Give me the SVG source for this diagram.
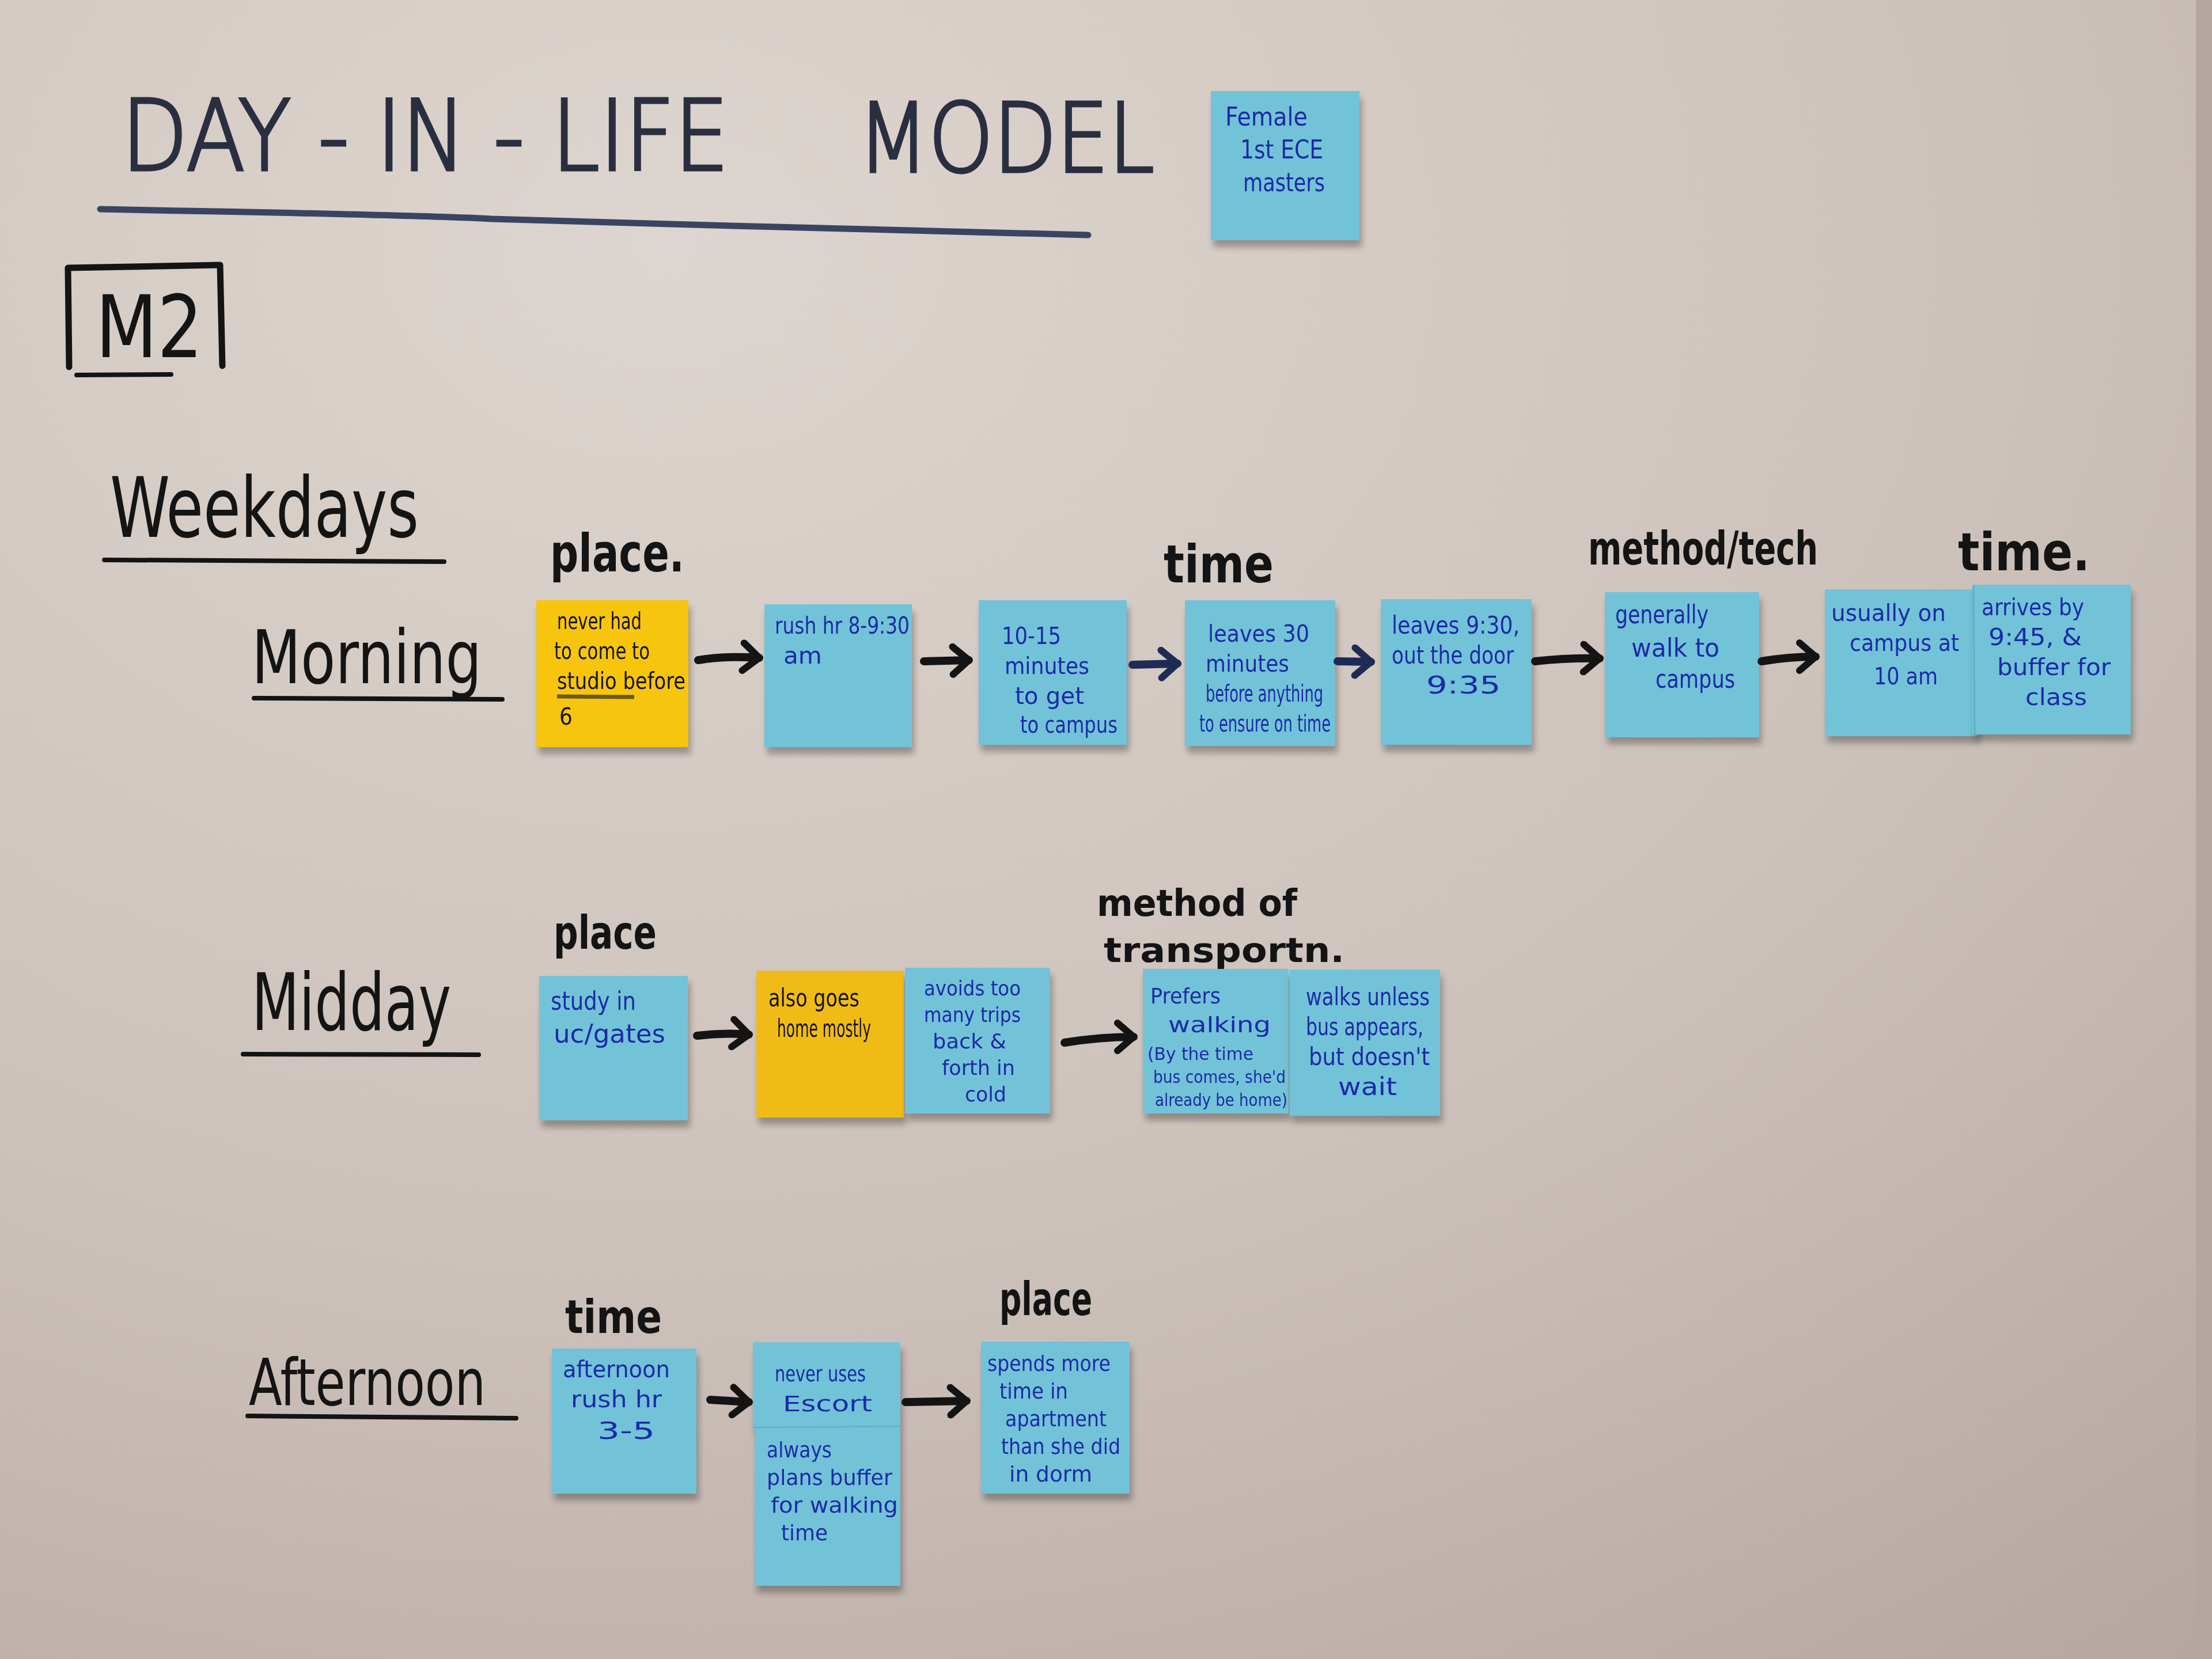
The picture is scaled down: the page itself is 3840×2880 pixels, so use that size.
<svg xmlns="http://www.w3.org/2000/svg" width="3840" height="2880" viewBox="0 0 3840 2880">
<defs>
<radialGradient id="bg" cx="0.3" cy="0.15" r="1.1">
<stop offset="0" stop-color="#ddd5cf"/>
<stop offset="0.55" stop-color="#cdc2bb"/>
<stop offset="1" stop-color="#b5a79f"/>
</radialGradient>
<filter id="sh" x="-10%" y="-10%" width="120%" height="130%">
<feGaussianBlur in="SourceAlpha" stdDeviation="6"/>
<feOffset dx="4" dy="12"/>
<feComponentTransfer><feFuncA type="linear" slope="0.3"/></feComponentTransfer>
<feMerge><feMergeNode/><feMergeNode in="SourceGraphic"/></feMerge>
</filter>
<marker id="ahK" viewBox="0 0 50 60" refX="40" refY="30" markerWidth="50" markerHeight="60" markerUnits="userSpaceOnUse" orient="auto">
<path d="M12,6 L40,30 L12,54" fill="none" stroke="#141414" stroke-width="12" stroke-linecap="round" stroke-linejoin="round"/>
</marker>
<marker id="ahN" viewBox="0 0 50 60" refX="40" refY="30" markerWidth="50" markerHeight="60" markerUnits="userSpaceOnUse" orient="auto">
<path d="M12,6 L40,30 L12,54" fill="none" stroke="#1e2c55" stroke-width="12" stroke-linecap="round" stroke-linejoin="round"/>
</marker>
</defs>
<style>
.blue{fill:#72c3d8}
.yel{fill:#f7c50d}
.yel2{fill:#f0bb12}
.nt{font-family:"DejaVu Sans Condensed","Liberation Sans Narrow","Liberation Sans",sans-serif;fill:#1c2ca6;}
.nk{font-family:"DejaVu Sans Condensed","Liberation Sans Narrow","Liberation Sans",sans-serif;fill:#141414;}
.lab{font-family:"DejaVu Sans","Liberation Sans",sans-serif;font-weight:bold;fill:#141414;}
.row{font-family:"DejaVu Sans Condensed","Liberation Sans Narrow","Liberation Sans",sans-serif;fill:#141414;}
.ttl{font-family:"DejaVu Sans","Liberation Sans",sans-serif;font-weight:200;fill:#2a2f40;stroke:#2a2f40;stroke-width:5;}
.ul{fill:none;stroke:#141414;stroke-width:8;stroke-linecap:round}
.arr{fill:none;stroke:#141414;stroke-width:14;stroke-linecap:round}
.arrN{fill:none;stroke:#1e2c55;stroke-width:14;stroke-linecap:round}
</style>
<rect width="3840" height="2880" fill="url(#bg)"/>
<rect x="3812" y="0" width="28" height="2880" fill="#b3a79f"/>

<g id="title">
<text class="ttl" x="211" y="295" font-size="170" textLength="1054" lengthAdjust="spacingAndGlyphs">DAY - IN - LIFE</text>
<text class="ttl" x="1489" y="298" font-size="165" textLength="515" lengthAdjust="spacingAndGlyphs" fill="#4a5672" stroke="#4a5672">MODEL</text>
<path d="M174,363 C400,368 700,372 853,380 C1200,392 1600,398 1889,408" fill="none" stroke="#3a4462" stroke-width="11" stroke-linecap="round"/>
</g>

<g id="persona" filter="url(#sh)" font-size="44">
<rect class="blue" x="2102" y="158" width="258" height="259"/>
<text class="nt" x="2127" y="218" textLength="143" lengthAdjust="spacingAndGlyphs">Female</text>
<text class="nt" x="2153" y="275" textLength="144" lengthAdjust="spacingAndGlyphs">1st ECE</text>
<text class="nt" x="2158" y="332" textLength="142" lengthAdjust="spacingAndGlyphs">masters</text>
</g>

<g id="m2">
<path d="M120,637 L118,465 L382,460 L386,635" fill="none" stroke="#141414" stroke-width="11" stroke-linecap="round" stroke-linejoin="round"/>
<text class="row" x="166" y="620" font-size="150" textLength="186" lengthAdjust="spacingAndGlyphs">M2</text>
<path class="ul" d="M133,651 L297,650" stroke-width="10"/>
</g>

<g id="weekdays">
<text class="row" x="191" y="932" font-size="145" textLength="536" lengthAdjust="spacingAndGlyphs">Weekdays</text>
<path class="ul" d="M181,972 L771,975"/>
</g>
<g id="morning-label">
<text class="row" x="437" y="1186" font-size="128" textLength="399" lengthAdjust="spacingAndGlyphs">Morning</text>
<path class="ul" d="M441,1212 L872,1214"/>
</g>
<g id="midday-label">
<text class="row" x="437" y="1788" font-size="138" textLength="346" lengthAdjust="spacingAndGlyphs">Midday</text>
<path class="ul" d="M422,1830 L831,1831"/>
</g>
<g id="afternoon-label">
<text class="row" x="432" y="2439" font-size="112" textLength="411" lengthAdjust="spacingAndGlyphs">Afternoon</text>
<path class="ul" d="M430,2458 L896,2462"/>
</g>

<g id="category-labels">
<text class="lab" x="955" y="992" font-size="90" textLength="233" lengthAdjust="spacingAndGlyphs">place.</text>
<text class="lab" x="2020" y="1011" font-size="90" textLength="191" lengthAdjust="spacingAndGlyphs">time</text>
<text class="lab" x="2757" y="980" font-size="80" textLength="399" lengthAdjust="spacingAndGlyphs">method/tech</text>
<text class="lab" x="3399" y="990" font-size="90" textLength="229" lengthAdjust="spacingAndGlyphs">time.</text>
<text class="lab" x="961" y="1647" font-size="80" textLength="179" lengthAdjust="spacingAndGlyphs">place</text>
<text class="lab" x="1904" y="1590" font-size="64" textLength="348" lengthAdjust="spacingAndGlyphs">method of</text>
<text class="lab" x="1916" y="1670" font-size="58" textLength="418" lengthAdjust="spacingAndGlyphs">transportn.</text>
<text class="lab" x="981" y="2314" font-size="80" textLength="168" lengthAdjust="spacingAndGlyphs">time</text>
<text class="lab" x="1735" y="2283" font-size="80" textLength="161" lengthAdjust="spacingAndGlyphs">place</text>
</g>

<g id="m1" filter="url(#sh)" font-size="40">
<rect class="yel" x="931" y="1042" width="264" height="255"/>
<text class="nk" x="967" y="1092" textLength="147" lengthAdjust="spacingAndGlyphs">never had</text>
<text class="nk" x="962" y="1144" textLength="166" lengthAdjust="spacingAndGlyphs">to come to</text>
<text class="nk" x="967" y="1196" textLength="223" lengthAdjust="spacingAndGlyphs">studio before</text>
<path d="M967,1209 L1101,1210" stroke="#6b5a1a" stroke-width="7" fill="none"/>
<text class="nk" x="971" y="1258">6</text>
</g>
<g id="m2n" filter="url(#sh)" font-size="40">
<rect class="blue" x="1327" y="1049" width="256" height="248"/>
<text class="nt" x="1345" y="1100" textLength="234" lengthAdjust="spacingAndGlyphs">rush hr 8-9:30</text>
<text class="nt" x="1360" y="1152" textLength="67" lengthAdjust="spacingAndGlyphs">am</text>
</g>
<g id="m3" filter="url(#sh)" font-size="40">
<rect class="blue" x="1699" y="1042" width="257" height="251"/>
<text class="nt" x="1739" y="1118" textLength="103" lengthAdjust="spacingAndGlyphs">10-15</text>
<text class="nt" x="1744" y="1170" textLength="147" lengthAdjust="spacingAndGlyphs">minutes</text>
<text class="nt" x="1762" y="1222" textLength="120" lengthAdjust="spacingAndGlyphs">to get</text>
<text class="nt" x="1771" y="1272" textLength="169" lengthAdjust="spacingAndGlyphs">to campus</text>
</g>
<g id="m4" filter="url(#sh)" font-size="40">
<rect class="blue" x="2057" y="1042" width="261" height="253"/>
<text class="nt" x="2097" y="1114" textLength="176" lengthAdjust="spacingAndGlyphs">leaves 30</text>
<text class="nt" x="2093" y="1166" textLength="145" lengthAdjust="spacingAndGlyphs">minutes</text>
<text class="nt" x="2093" y="1218" textLength="204" lengthAdjust="spacingAndGlyphs">before anything</text>
<text class="nt" x="2082" y="1270" textLength="228" lengthAdjust="spacingAndGlyphs">to ensure on time</text>
</g>
<g id="m5" filter="url(#sh)" font-size="42">
<rect class="blue" x="2397" y="1040" width="262" height="253"/>
<text class="nt" x="2416" y="1100" textLength="222" lengthAdjust="spacingAndGlyphs">leaves 9:30,</text>
<text class="nt" x="2416" y="1152" textLength="212" lengthAdjust="spacingAndGlyphs">out the door</text>
<text class="nt" x="2476" y="1204" textLength="129" lengthAdjust="spacingAndGlyphs">9:35</text>
</g>
<g id="m6" filter="url(#sh)" font-size="44">
<rect class="blue" x="2786" y="1028" width="268" height="252"/>
<text class="nt" x="2804" y="1082" textLength="162" lengthAdjust="spacingAndGlyphs">generally</text>
<text class="nt" x="2832" y="1140" textLength="153" lengthAdjust="spacingAndGlyphs">walk to</text>
<text class="nt" x="2874" y="1194" textLength="138" lengthAdjust="spacingAndGlyphs">campus</text>
</g>
<g id="m7" filter="url(#sh)" font-size="40">
<rect class="blue" x="3168" y="1023" width="265" height="255"/>
<text class="nt" x="3179" y="1078" textLength="199" lengthAdjust="spacingAndGlyphs">usually on</text>
<text class="nt" x="3211" y="1130" textLength="190" lengthAdjust="spacingAndGlyphs">campus at</text>
<text class="nt" x="3253" y="1188" textLength="111" lengthAdjust="spacingAndGlyphs">10 am</text>
</g>
<g id="m8" filter="url(#sh)" font-size="40">
<rect class="blue" x="3424" y="1015" width="275" height="260"/>
<line x1="3426" y1="1016" x2="3428" y2="1275" stroke="#5fb0c6" stroke-width="3"/>
<text class="nt" x="3440" y="1068" textLength="178" lengthAdjust="spacingAndGlyphs">arrives by</text>
<text class="nt" x="3452" y="1120" textLength="162" lengthAdjust="spacingAndGlyphs">9:45, &amp;</text>
<text class="nt" x="3467" y="1172" textLength="197" lengthAdjust="spacingAndGlyphs">buffer for</text>
<text class="nt" x="3516" y="1224" textLength="107" lengthAdjust="spacingAndGlyphs">class</text>
</g>

<g id="d1" filter="url(#sh)" font-size="44">
<rect class="blue" x="936" y="1694" width="258" height="251"/>
<text class="nt" x="956" y="1753" textLength="148" lengthAdjust="spacingAndGlyphs">study in</text>
<text class="nt" x="961" y="1810" textLength="194" lengthAdjust="spacingAndGlyphs">uc/gates</text>
</g>
<g id="d2" filter="url(#sh)" font-size="42">
<rect class="yel2" x="1313" y="1685" width="256" height="255"/>
<text class="nk" x="1334" y="1747" textLength="158" lengthAdjust="spacingAndGlyphs">also goes</text>
<text class="nk" x="1349" y="1800" textLength="163" lengthAdjust="spacingAndGlyphs">home mostly</text>
</g>
<g id="d3" filter="url(#sh)" font-size="36">
<rect class="blue" x="1571" y="1680" width="252" height="253"/>
<text class="nt" x="1604" y="1728" textLength="168" lengthAdjust="spacingAndGlyphs">avoids too</text>
<text class="nt" x="1604" y="1774" textLength="168" lengthAdjust="spacingAndGlyphs">many trips</text>
<text class="nt" x="1619" y="1820" textLength="128" lengthAdjust="spacingAndGlyphs">back &amp;</text>
<text class="nt" x="1635" y="1866" textLength="127" lengthAdjust="spacingAndGlyphs">forth in</text>
<text class="nt" x="1675" y="1912" textLength="72" lengthAdjust="spacingAndGlyphs">cold</text>
</g>
<g id="d4" filter="url(#sh)" font-size="38">
<rect class="blue" x="1984" y="1682" width="253" height="251"/>
<text class="nt" x="1997" y="1742" textLength="122" lengthAdjust="spacingAndGlyphs">Prefers</text>
<text class="nt" x="2028" y="1792" textLength="178" lengthAdjust="spacingAndGlyphs">walking</text>
<text class="nt" font-size="30" x="1992" y="1840" textLength="184" lengthAdjust="spacingAndGlyphs">(By the time</text>
<text class="nt" font-size="30" x="2002" y="1880" textLength="230" lengthAdjust="spacingAndGlyphs">bus comes, she'd</text>
<text class="nt" font-size="30" x="2005" y="1920" textLength="230" lengthAdjust="spacingAndGlyphs">already be home)</text>
</g>
<g id="d5" filter="url(#sh)" font-size="42">
<rect class="blue" x="2239" y="1683" width="261" height="254"/>
<text class="nt" x="2267" y="1745" textLength="215" lengthAdjust="spacingAndGlyphs">walks unless</text>
<text class="nt" x="2267" y="1797" textLength="204" lengthAdjust="spacingAndGlyphs">bus appears,</text>
<text class="nt" x="2272" y="1849" textLength="210" lengthAdjust="spacingAndGlyphs">but doesn't</text>
<text class="nt" x="2323" y="1901" textLength="102" lengthAdjust="spacingAndGlyphs">wait</text>
</g>

<g id="a1" filter="url(#sh)" font-size="40">
<rect class="blue" x="958" y="2341" width="251" height="252"/>
<text class="nt" x="977" y="2391" textLength="186" lengthAdjust="spacingAndGlyphs">afternoon</text>
<text class="nt" x="991" y="2443" textLength="158" lengthAdjust="spacingAndGlyphs">rush hr</text>
<text class="nt" x="1037" y="2498" textLength="100" lengthAdjust="spacingAndGlyphs">3-5</text>
</g>
<g id="a2" filter="url(#sh)" font-size="38">
<rect class="blue" x="1310" y="2476" width="253" height="277"/>
<rect class="blue" x="1307" y="2330" width="256" height="150"/>
<line x1="1308" y1="2478" x2="1563" y2="2476" stroke="#62b2c8" stroke-width="3"/>
<text class="nt" x="1345" y="2398" textLength="158" lengthAdjust="spacingAndGlyphs">never uses</text>
<text class="nt" x="1359" y="2450" textLength="155" lengthAdjust="spacingAndGlyphs">Escort</text>
<text class="nt" x="1331" y="2530" textLength="113" lengthAdjust="spacingAndGlyphs">always</text>
<text class="nt" x="1331" y="2578" textLength="218" lengthAdjust="spacingAndGlyphs">plans buffer</text>
<text class="nt" x="1338" y="2626" textLength="221" lengthAdjust="spacingAndGlyphs">for walking</text>
<text class="nt" x="1356" y="2674" textLength="81" lengthAdjust="spacingAndGlyphs">time</text>
</g>
<g id="a3" filter="url(#sh)" font-size="38">
<rect class="blue" x="1703" y="2329" width="258" height="264"/>
<text class="nt" x="1714" y="2380" textLength="214" lengthAdjust="spacingAndGlyphs">spends more</text>
<text class="nt" x="1735" y="2428" textLength="119" lengthAdjust="spacingAndGlyphs">time in</text>
<text class="nt" x="1745" y="2476" textLength="176" lengthAdjust="spacingAndGlyphs">apartment</text>
<text class="nt" x="1738" y="2524" textLength="207" lengthAdjust="spacingAndGlyphs">than she did</text>
<text class="nt" x="1752" y="2572" textLength="144" lengthAdjust="spacingAndGlyphs">in dorm</text>
</g>

<g id="connectors">
<path class="arr" d="M1212,1146 Q1260,1138 1318,1142" marker-end="url(#ahK)"/>
<path class="arr" d="M1604,1148 L1682,1146" marker-end="url(#ahK)"/>
<path class="arrN" d="M1966,1154 L2044,1152" marker-end="url(#ahN)"/>
<path class="arrN" d="M2322,1148 L2380,1149" marker-end="url(#ahN)"/>
<path class="arr" d="M2665,1148 Q2720,1142 2777,1143" marker-end="url(#ahK)"/>
<path class="arr" d="M3058,1148 Q3105,1140 3152,1140" marker-end="url(#ahK)"/>
<path class="arr" d="M1210,1798 Q1255,1792 1300,1796" marker-end="url(#ahK)"/>
<path class="arr" d="M1848,1810 Q1910,1800 1968,1800" marker-end="url(#ahK)"/>
<path class="arr" d="M1233,2430 L1300,2434" marker-end="url(#ahK)"/>
<path class="arr" d="M1572,2434 L1678,2432" marker-end="url(#ahK)"/>
</g>
</svg>
